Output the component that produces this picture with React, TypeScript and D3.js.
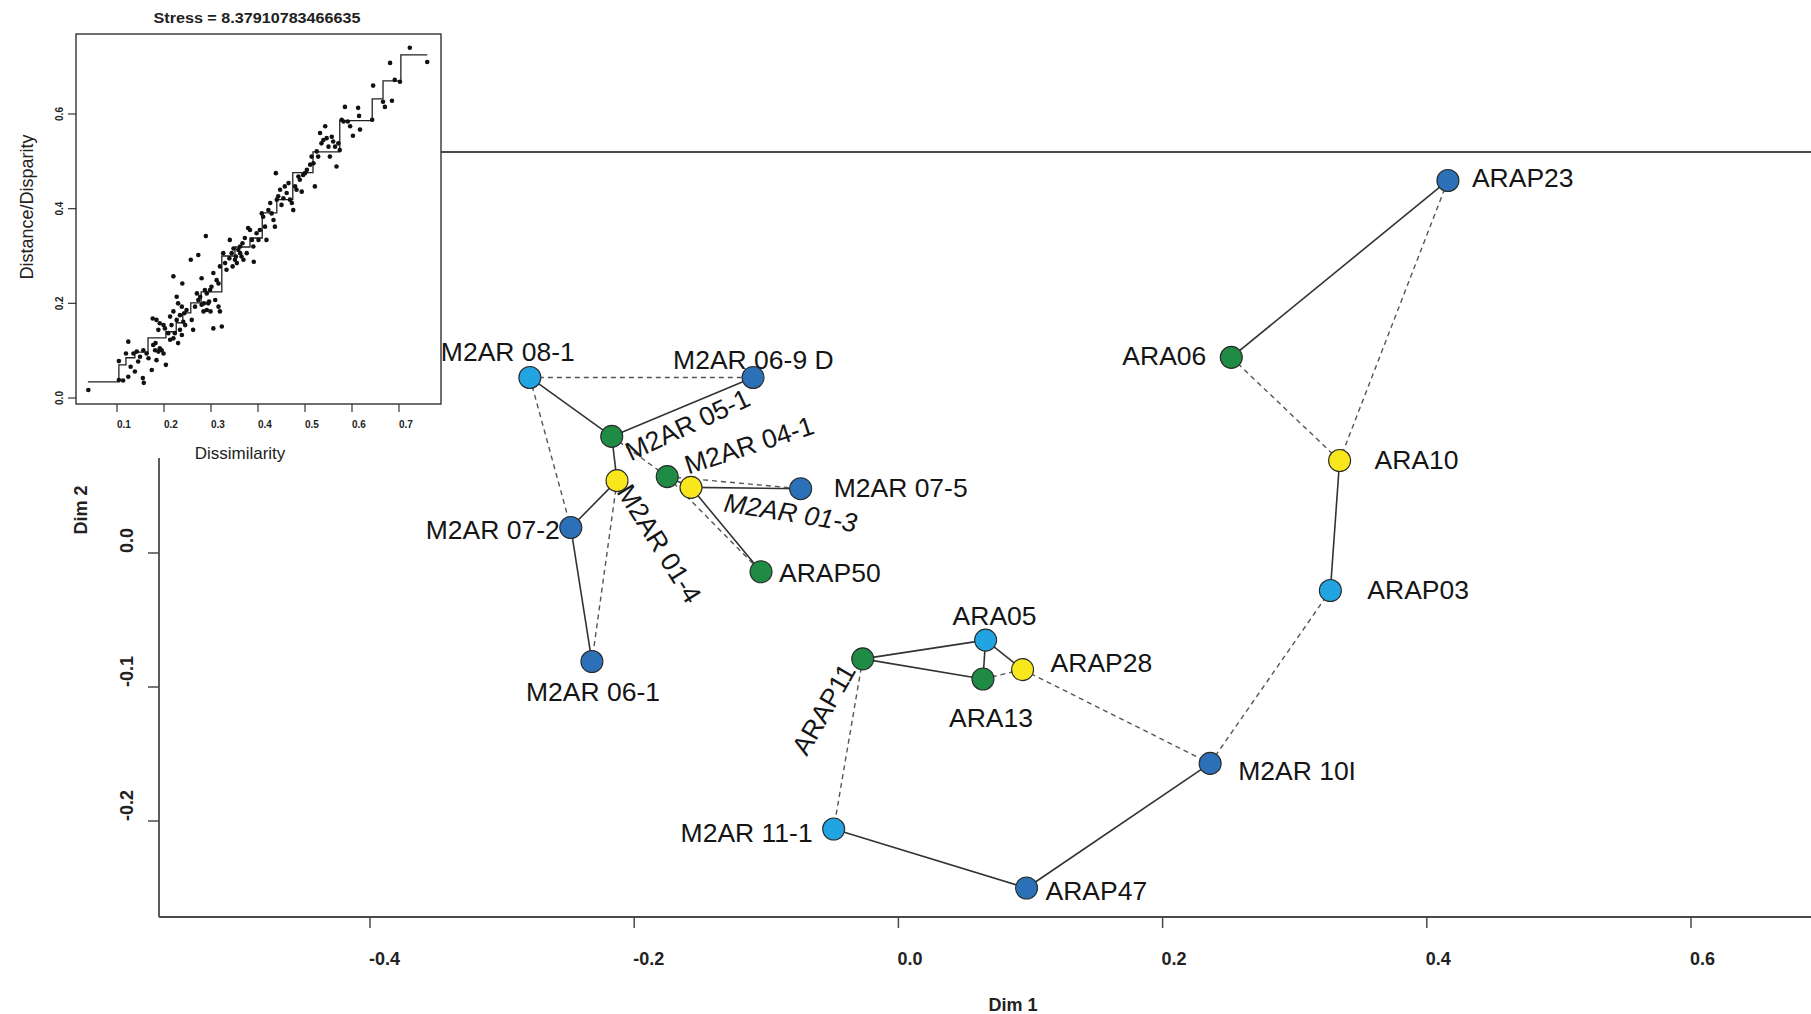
import { FC, useEffect, useRef } from 'react';
import * as d3 from 'd3';

// NMDS configuration (Dim 1 / Dim 2)
const sampleNames = [
  'M2AR 08-1', 'M2AR 06-9 D', 'M2AR 05-1', 'M2AR 01-4', 'M2AR 04-1', 'M2AR 01-3', 'M2AR 07-5',
  'M2AR 07-2', 'ARAP50', 'M2AR 06-1', 'ARAP11', 'ARA05', 'ARA13', 'ARAP28', 'M2AR 10I',
  'M2AR 11-1', 'ARAP47', 'ARAP23', 'ARA06', 'ARA10', 'ARAP03',
];
const dim1 = [
  -0.279, -0.110, -0.217, -0.213, -0.175, -0.157, -0.074,
  -0.248, -0.104, -0.232, -0.027, 0.066, 0.064, 0.094, 0.236,
  -0.049, 0.097, 0.416, 0.252, 0.334, 0.327,
];
const dim2 = [
  0.131, 0.131, 0.087, 0.054, 0.057, 0.049, 0.048,
  0.019, -0.014, -0.081, -0.079, -0.065, -0.094, -0.087, -0.157,
  -0.206, -0.250, 0.278, 0.146, 0.069, -0.028,
];
const sampleGroup = [
  'light', 'dark', 'green', 'yellow', 'green', 'yellow', 'dark',
  'dark', 'green', 'dark', 'green', 'light', 'green', 'yellow', 'dark',
  'light', 'dark', 'dark', 'green', 'yellow', 'light',
];

const solidLinks: [string, string][] = [
  ['M2AR 08-1', 'M2AR 05-1'],
  ['M2AR 05-1', 'M2AR 06-9 D'],
  ['M2AR 05-1', 'M2AR 01-4'],
  ['M2AR 01-4', 'M2AR 07-2'],
  ['M2AR 07-2', 'M2AR 06-1'],
  ['M2AR 04-1', 'M2AR 01-3'],
  ['M2AR 01-3', 'M2AR 07-5'],
  ['M2AR 01-3', 'ARAP50'],
  ['ARAP11', 'ARA05'],
  ['ARAP11', 'ARA13'],
  ['ARA05', 'ARA13'],
  ['ARA05', 'ARAP28'],
  ['M2AR 11-1', 'ARAP47'],
  ['ARAP47', 'M2AR 10I'],
  ['ARAP23', 'ARA06'],
  ['ARA10', 'ARAP03'],
];
const dashedLinks: [string, string][] = [
  ['M2AR 08-1', 'M2AR 06-9 D'],
  ['M2AR 08-1', 'M2AR 07-2'],
  ['M2AR 01-4', 'M2AR 06-1'],
  ['M2AR 05-1', 'M2AR 04-1'],
  ['M2AR 04-1', 'M2AR 07-5'],
  ['M2AR 04-1', 'ARAP50'],
  ['ARA13', 'ARAP28'],
  ['ARAP28', 'M2AR 10I'],
  ['ARAP11', 'M2AR 11-1'],
  ['M2AR 10I', 'ARAP03'],
  ['ARAP23', 'ARA10'],
  ['ARA06', 'ARA10'],
];

const dim1Ticks = [-0.4, -0.2, 0.0, 0.2, 0.4, 0.6];
const dim2Ticks = [0.0, -0.1, -0.2];

// Shepard plot (inset)
const stressValue = '8.37910783466635';
const dissimilarity = [
  0.039, 0.104, 0.104, 0.113, 0.124, 0.119, 0.129, 0.138, 0.124, 0.135, 0.142, 0.149, 0.145, 0.156,
  0.155, 0.157, 0.167, 0.163, 0.174, 0.177, 0.181, 0.188, 0.184, 0.195, 0.199, 0.204, 0.182, 0.191,
  0.176, 0.184, 0.191, 0.199, 0.188, 0.202, 0.209, 0.213, 0.216, 0.220, 0.220, 0.223, 0.213, 0.227,
  0.230, 0.234, 0.238, 0.238, 0.241, 0.243, 0.245, 0.220, 0.227, 0.230, 0.234, 0.239, 0.248, 0.259,
  0.262, 0.266, 0.270, 0.277, 0.280, 0.284, 0.273, 0.287, 0.291, 0.294, 0.298, 0.301, 0.305, 0.316,
  0.319, 0.323, 0.309, 0.312, 0.280, 0.285, 0.291, 0.296, 0.299, 0.289, 0.257, 0.273, 0.305, 0.316,
  0.319, 0.326, 0.330, 0.333, 0.339, 0.340, 0.344, 0.346, 0.348, 0.351, 0.353, 0.355, 0.358, 0.362,
  0.365, 0.362, 0.367, 0.369, 0.372, 0.376, 0.379, 0.383, 0.387, 0.390, 0.391, 0.397, 0.401, 0.404,
  0.408, 0.411, 0.415, 0.418, 0.422, 0.426, 0.429, 0.433, 0.436, 0.440, 0.438, 0.443, 0.447, 0.450,
  0.454, 0.457, 0.461, 0.465, 0.468, 0.472, 0.475, 0.479, 0.482, 0.486, 0.489, 0.493, 0.496, 0.500,
  0.504, 0.511, 0.514, 0.518, 0.521, 0.525, 0.528, 0.532, 0.535, 0.539, 0.543, 0.546, 0.550, 0.553,
  0.557, 0.560, 0.564, 0.567, 0.571, 0.574, 0.578, 0.582, 0.585, 0.591, 0.596, 0.602, 0.613, 0.615,
  0.617, 0.643, 0.645, 0.666, 0.670, 0.685, 0.681, 0.691, 0.702, 0.723, 0.760,
];
const disparity = [
  0.017, 0.078, 0.038, 0.037, 0.119, 0.094, 0.066, 0.056, 0.045, 0.094, 0.098, 0.087, 0.077, 0.101,
  0.042, 0.032, 0.084, 0.094, 0.059, 0.112, 0.101, 0.098, 0.080, 0.101, 0.094, 0.070, 0.116, 0.105,
  0.168, 0.165, 0.158, 0.154, 0.144, 0.147, 0.137, 0.172, 0.154, 0.183, 0.126, 0.137, 0.123, 0.165,
  0.116, 0.144, 0.193, 0.133, 0.161, 0.179, 0.154, 0.257, 0.214, 0.200, 0.175, 0.242, 0.186, 0.165,
  0.144, 0.193, 0.221, 0.214, 0.197, 0.183, 0.207, 0.228, 0.221, 0.200, 0.228, 0.235, 0.147, 0.193,
  0.183, 0.151, 0.207, 0.249, 0.253, 0.200, 0.186, 0.204, 0.183, 0.342, 0.292, 0.302, 0.264, 0.242,
  0.278, 0.306, 0.285, 0.271, 0.295, 0.334, 0.306, 0.278, 0.316, 0.292, 0.299, 0.285, 0.313, 0.306,
  0.299, 0.320, 0.327, 0.292, 0.338, 0.306, 0.359, 0.355, 0.334, 0.320, 0.288, 0.348, 0.334, 0.355,
  0.390, 0.383, 0.362, 0.334, 0.397, 0.412, 0.390, 0.376, 0.362, 0.419, 0.475, 0.426, 0.440, 0.408,
  0.422, 0.447, 0.433, 0.454, 0.419, 0.412, 0.397, 0.447, 0.440, 0.468, 0.461, 0.436, 0.471, 0.475,
  0.482, 0.493, 0.510, 0.496, 0.447, 0.521, 0.510, 0.560, 0.538, 0.545, 0.574, 0.549, 0.531, 0.510,
  0.552, 0.542, 0.531, 0.489, 0.538, 0.524, 0.588, 0.584, 0.615, 0.584, 0.574, 0.554, 0.613, 0.596,
  0.567, 0.588, 0.660, 0.626, 0.615, 0.628, 0.708, 0.672, 0.668, 0.740, 0.710,
];
// monotone (isotonic) fit, as step breakpoints
const stepDissimilarity = [
  0.038, 0.104, 0.119, 0.138, 0.166, 0.204, 0.226, 0.240, 0.257, 0.279, 0.323, 0.351, 0.383,
  0.409, 0.440, 0.474, 0.517, 0.574, 0.643, 0.666, 0.704, 0.760,
];
const stepDisparity = [
  0.034, 0.070, 0.085, 0.097, 0.127, 0.140, 0.159, 0.180, 0.201, 0.224, 0.300, 0.319, 0.338,
  0.391, 0.419, 0.476, 0.520, 0.586, 0.632, 0.670, 0.725, 0.725,
];
const stressTicksX = [0.1, 0.2, 0.3, 0.4, 0.5, 0.6, 0.7];
const stressTicksY = [0.0, 0.2, 0.4, 0.6];

const groupColor: Record<string, string> = {
  dark: '#2c71b8',
  light: '#22a3e2',
  green: '#1f8b45',
  yellow: '#f8e71c',
};

// label placement relative to each point (pixels)
const labelLayout: Record<string, { dx: number; dy: number; anchor: string; rotate?: number; italic?: boolean }> = {
  'M2AR 08-1': { dx: -22, dy: -16, anchor: 'middle' },
  'M2AR 06-9 D': { dx: -80, dy: -8, anchor: 'start' },
  'M2AR 05-1': { dx: 19, dy: 25, anchor: 'start', rotate: -25 },
  'M2AR 04-1': { dx: 21, dy: -2, anchor: 'start', rotate: -18 },
  'M2AR 01-3': { dx: 32, dy: 24, anchor: 'start', rotate: 9, italic: true },
  'M2AR 07-5': { dx: 33, dy: 8, anchor: 'start' },
  'M2AR 01-4': { dx: -1, dy: 11, anchor: 'start', rotate: 58 },
  'M2AR 07-2': { dx: -11, dy: 11, anchor: 'end' },
  ARAP50: { dx: 18, dy: 10, anchor: 'start' },
  'M2AR 06-1': { dx: 1, dy: 39, anchor: 'middle' },
  ARAP11: { dx: -31, dy: 55, anchor: 'middle', rotate: -60 },
  ARA05: { dx: 9, dy: -15, anchor: 'middle' },
  ARA13: { dx: 8, dy: 48, anchor: 'middle' },
  ARAP28: { dx: 28, dy: 2, anchor: 'start' },
  'M2AR 10I': { dx: 28, dy: 17, anchor: 'start' },
  'M2AR 11-1': { dx: -21, dy: 13, anchor: 'end' },
  ARAP47: { dx: 19, dy: 12, anchor: 'start' },
  ARAP23: { dx: 24, dy: 7, anchor: 'start' },
  ARA06: { dx: -25, dy: 8, anchor: 'end' },
  ARA10: { dx: 35, dy: 8, anchor: 'start' },
  ARAP03: { dx: 37, dy: 8, anchor: 'start' },
};

const W = 1811;
const H = 1014;
const FONT = "'Liberation Sans', Arial, Helvetica, sans-serif";
const fmt = (t: number) => t.toFixed(1);

const NmdsChart: FC = () => {
  const ref = useRef<SVGSVGElement | null>(null);

  useEffect(() => {
    if (!ref.current) return;
    const svg = d3.select(ref.current);
    svg.selectAll('*').remove();

    svg.append('rect').attr('width', W).attr('height', H).attr('fill', '#fff');

    // main scales
    const x = d3.scaleLinear().domain([-0.4, 0.6]).range([370, 1691]);
    const y = d3.scaleLinear().domain([-0.2, 0]).range([821, 553]);
    const left = 159;
    const bottom = 917;
    const top = 152;

    const frame = svg.append('g').attr('stroke', '#4a4a4a').attr('stroke-width', 1.8).attr('fill', 'none');
    frame.append('line').attr('x1', left).attr('x2', W).attr('y1', bottom).attr('y2', bottom);
    frame.append('line').attr('x1', left).attr('x2', left).attr('y1', 458).attr('y2', bottom);
    frame.append('line').attr('x1', 441).attr('x2', W).attr('y1', top).attr('y2', top);

    // x ticks
    const gx = svg.append('g');
    dim1Ticks.forEach((t) => {
      gx.append('line')
        .attr('x1', x(t)).attr('x2', x(t))
        .attr('y1', bottom).attr('y2', bottom + 11)
        .attr('stroke', '#4a4a4a').attr('stroke-width', 1.5);
      gx.append('text')
        .attr('x', x(t) - 1).attr('y', 965)
        .attr('font-family', FONT).attr('font-size', 18).attr('font-weight', 'bold')
        .attr('fill', '#222')
        .text(fmt(t));
    });
    // y ticks
    const gy = svg.append('g');
    dim2Ticks.forEach((t) => {
      gy.append('line')
        .attr('x1', left).attr('x2', left - 11)
        .attr('y1', y(t)).attr('y2', y(t))
        .attr('stroke', '#4a4a4a').attr('stroke-width', 1.5);
      gy.append('text')
        .attr('transform', `translate(133,${y(t)}) rotate(-90)`)
        .attr('font-family', FONT).attr('font-size', 18).attr('font-weight', 'bold')
        .attr('fill', '#222')
        .text(fmt(t));
    });
    svg.append('text')
      .attr('x', 1013).attr('y', 1011).attr('text-anchor', 'middle')
      .attr('font-family', FONT).attr('font-size', 18).attr('font-weight', 'bold').attr('fill', '#222')
      .text('Dim 1');
    svg.append('text')
      .attr('transform', 'translate(87,510) rotate(-90)').attr('text-anchor', 'middle')
      .attr('font-family', FONT).attr('font-size', 18).attr('font-weight', 'bold').attr('fill', '#222')
      .text('Dim 2');

    // network
    const idx = new Map(sampleNames.map((n, i) => [n, i]));
    const px = (n: string) => x(dim1[idx.get(n)!]);
    const py = (n: string) => y(dim2[idx.get(n)!]);

    const links = svg.append('g');
    links.selectAll('line.dash')
      .data(dashedLinks)
      .enter()
      .append('line')
      .attr('x1', (d) => px(d[0])).attr('y1', (d) => py(d[0]))
      .attr('x2', (d) => px(d[1])).attr('y2', (d) => py(d[1]))
      .attr('stroke', '#555').attr('stroke-width', 1.4).attr('stroke-dasharray', '5,4');
    links.selectAll('line.solid')
      .data(solidLinks)
      .enter()
      .append('line')
      .attr('x1', (d) => px(d[0])).attr('y1', (d) => py(d[0]))
      .attr('x2', (d) => px(d[1])).attr('y2', (d) => py(d[1]))
      .attr('stroke', '#333').attr('stroke-width', 1.6);

    const labels = svg.append('g');
    sampleNames.forEach((n, i) => {
      const l = labelLayout[n];
      const lx = x(dim1[i]) + l.dx;
      const ly = y(dim2[i]) + l.dy;
      labels.append('text')
        .attr('transform', `translate(${lx},${ly})${l.rotate ? ` rotate(${l.rotate})` : ''}`)
        .attr('text-anchor', l.anchor)
        .attr('font-family', FONT).attr('font-size', 26.5)
        .attr('font-style', l.italic ? 'italic' : 'normal')
        .attr('fill', '#151515')
        .text(n);
    });

    svg.append('g')
      .selectAll('circle')
      .data(sampleNames)
      .enter()
      .append('circle')
      .attr('cx', (_d, i) => x(dim1[i]))
      .attr('cy', (_d, i) => y(dim2[i]))
      .attr('r', 11)
      .attr('fill', (_d, i) => groupColor[sampleGroup[i]])
      .attr('stroke', '#2a2a2a').attr('stroke-width', 1.1);

    // ---- inset: Shepard plot ----
    const inset = svg.append('g');
    inset.append('rect').attr('x', 0).attr('y', 0).attr('width', 441).attr('height', 458).attr('fill', '#fff');
    const sx = d3.scaleLinear().domain([0.1, 0.7]).range([117, 399]);
    const sy = d3.scaleLinear().domain([0, 0.6]).range([398, 114]);
    const b = { l: 76, r: 441, t: 34, b: 404 };

    inset.append('rect')
      .attr('x', b.l).attr('y', b.t).attr('width', b.r - b.l).attr('height', b.b - b.t)
      .attr('fill', 'none').attr('stroke', '#333').attr('stroke-width', 1.4);

    stressTicksX.forEach((t) => {
      inset.append('line')
        .attr('x1', sx(t)).attr('x2', sx(t)).attr('y1', b.b).attr('y2', b.b + 8)
        .attr('stroke', '#333').attr('stroke-width', 1.2);
      inset.append('text')
        .attr('x', sx(t)).attr('y', 428)
        .attr('font-family', FONT).attr('font-size', 10).attr('font-weight', 'bold').attr('fill', '#222')
        .text(fmt(t));
    });
    stressTicksY.forEach((t) => {
      inset.append('line')
        .attr('x1', b.l).attr('x2', b.l - 8).attr('y1', sy(t)).attr('y2', sy(t))
        .attr('stroke', '#333').attr('stroke-width', 1.2);
      inset.append('text')
        .attr('transform', `translate(63,${sy(t)}) rotate(-90)`).attr('text-anchor', 'middle')
        .attr('font-family', FONT).attr('font-size', 10).attr('font-weight', 'bold').attr('fill', '#222')
        .text(fmt(t));
    });

    const stepData = stepDissimilarity.map((d, i) => [d, stepDisparity[i]] as [number, number]);
    const stepLine = d3.line<[number, number]>()
      .x((d) => sx(d[0]))
      .y((d) => sy(d[1]))
      .curve(d3.curveStepAfter);
    inset.append('path')
      .attr('d', stepLine(stepData))
      .attr('fill', 'none').attr('stroke', '#222').attr('stroke-width', 1.3);

    inset.append('g')
      .selectAll('circle')
      .data(dissimilarity)
      .enter()
      .append('circle')
      .attr('cx', (d) => sx(d))
      .attr('cy', (_d, i) => sy(disparity[i]))
      .attr('r', 2.3)
      .attr('fill', '#111');

    inset.append('text')
      .attr('x', 257).attr('y', 23).attr('text-anchor', 'middle')
      .attr('font-family', FONT).attr('font-size', 14).attr('font-weight', 'bold').attr('fill', '#222')
      .attr('textLength', 207).attr('lengthAdjust', 'spacingAndGlyphs')
      .text(`Stress = ${stressValue}`);
    inset.append('text')
      .attr('x', 240).attr('y', 459).attr('text-anchor', 'middle')
      .attr('font-family', FONT).attr('font-size', 17).attr('fill', '#222')
      .text('Dissimilarity');
    inset.append('text')
      .attr('transform', 'translate(33,207) rotate(-90)').attr('text-anchor', 'middle')
      .attr('font-family', FONT).attr('font-size', 18).attr('fill', '#222')
      .text('Distance/Disparity');
  }, []);

  return (
    <svg
      ref={ref}
      width={W}
      height={H}
      style={{ position: 'absolute', left: 0, top: 0, display: 'block' }}
    />
  );
};

export default function App() {
  return <NmdsChart />;
}
